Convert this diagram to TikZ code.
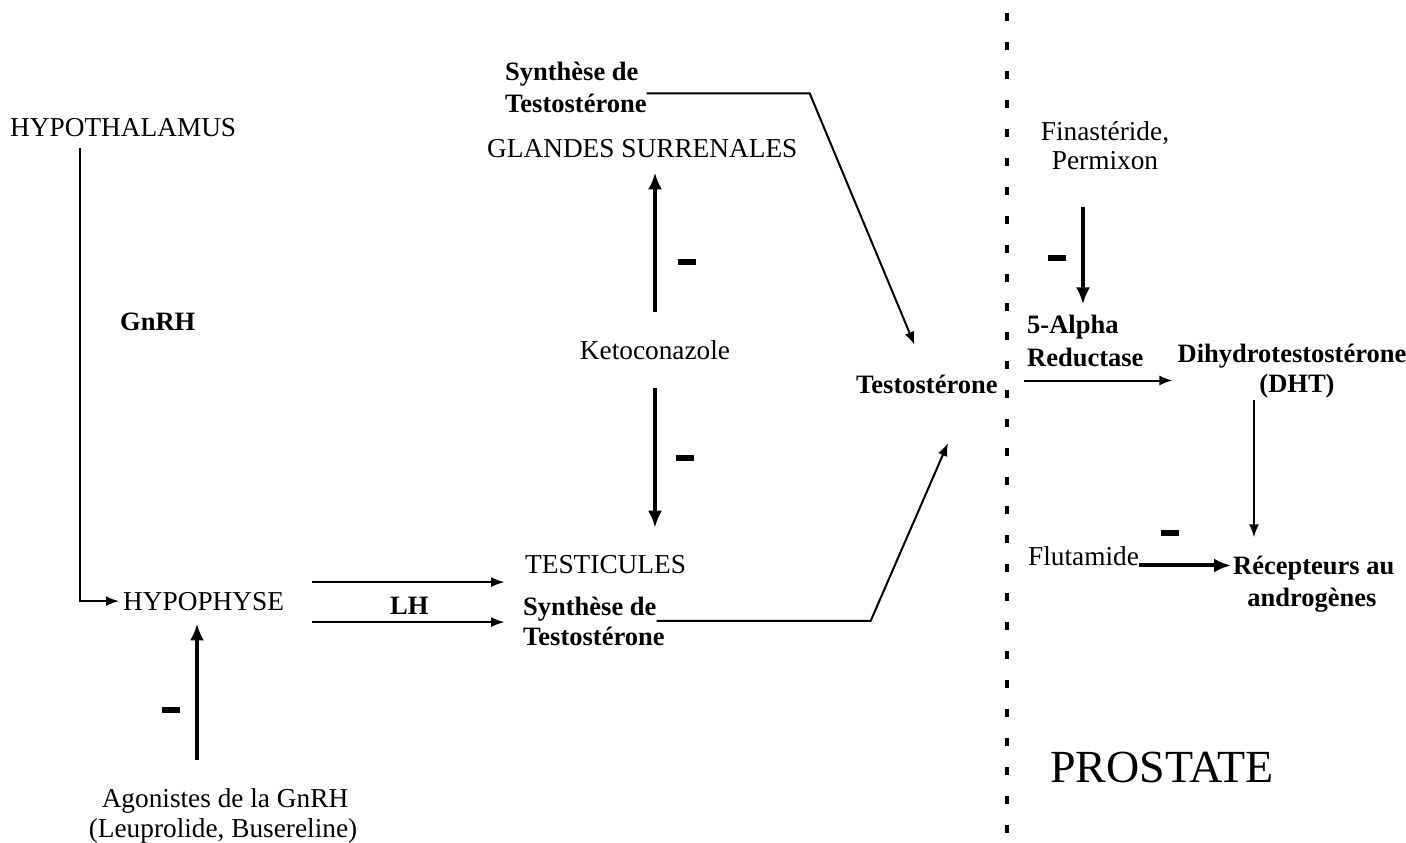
\documentclass[tikz,border=0pt]{standalone}
\usepackage{fontspec}
\setmainfont{Liberation Serif}
\usetikzlibrary{arrows.meta,calc}
\begin{document}
\begin{tikzpicture}[x=1pt,y=-1pt,
  reg/.style={font=\fontsize{27.3}{30}\selectfont, inner sep=0pt},
  bld/.style={font=\bfseries\fontsize{26.5}{30}\selectfont, inner sep=0pt},
  tarr/.style={line width=2pt, -{Latex[length=13pt,width=10pt]}},
  marr/.style={line width=2.4pt, -{Latex[length=14pt,width=10pt]}},
  karr/.style={line width=4pt, -{Latex[length=17pt,width=14pt]}},
  minus/.style={fill=black, minimum width=18pt, minimum height=6pt, inner sep=0pt},
  divider/.style={line width=4pt, dash pattern=on 8pt off 21pt}]
\useasboundingbox (0,0) rectangle (1406,843);

% nodes
\node[reg,anchor=base west] (hypoth) at (10,136) {HYPOTHALAMUS};
\node[bld,anchor=base west] (gnrh) at (120,330) {GnRH};
\node[reg,anchor=base west] (hypoph) at (123,610) {HYPOPHYSE};
\node[reg,anchor=base] (ag1) at (225,807) {Agonistes de la GnRH};
\node[reg,anchor=base] (ag2) at (223,837) {(Leuprolide, Busereline)};
\node[bld,anchor=base west] (lh) at (390,614) {LH};
\node[reg,anchor=base west] (testi) at (525,573) {TESTICULES};
\node[bld,anchor=base west] (synB1) at (523,615) {Synthèse de};
\node[bld,anchor=base west] (synB2) at (523,645) {Testostérone};
\node[reg,anchor=base] (keto) at (655,359) {Ketoconazole};
\node[reg,anchor=base west] (gland) at (487,157) {GLANDES SURRENALES};
\node[bld,anchor=base west] (synA1) at (505,81) {Synthèse de};
\node[bld,anchor=base west] (synA2) at (505,112) {Testostérone};
\node[bld,anchor=base west] (testo) at (856,393) {Testostérone};
\node[reg,anchor=base] (fin1) at (1105,140) {Finastéride,};
\node[reg,anchor=base] (fin2) at (1105,169) {Permixon};
\node[bld,anchor=base west] (al1) at (1027,333) {5-Alpha};
\node[bld,anchor=base west] (al2) at (1027,366) {Reductase};
\node[bld,anchor=base] (dht1) at (1292,362) {Dihydrotestostérone};
\node[bld,anchor=base] (dht2) at (1297,392) {(DHT)};
\node[reg,anchor=base west] (fluta) at (1028,565) {Flutamide};
\node[bld,anchor=base west] (rec1) at (1233,574) {Récepteurs au};
\node[bld,anchor=base] (rec2) at (1312,606) {androgènes};
\node[font=\fontsize{46}{50}\selectfont, inner sep=0pt, anchor=base west] (prost) at (1050,782) {PROSTATE};

% minus signs
\node[minus] (m1) at (171,710) {};
\node[minus] (m2) at (687,262) {};
\node[minus] (m3) at (685,458) {};
\node[minus] (m4) at (1057,258) {};
\node[minus] (m5) at (1170,533) {};

% divider
\coordinate (dvTop) at (1007,13);
\coordinate (dvBot) at (1007,843);
\draw[divider] (dvTop) -- (dvBot);

% connectors
\draw[tarr] ($(hypoth.south west)+(70,12)$) |- ($(hypoph.west)+(-4,0)$);
\coordinate (agS) at (197,760);
\draw[karr, shorten >=13pt] (agS) -- (agS |- hypoph.south);
\draw[marr] ($(hypoph.east)+(28,-19)$) -- ($(hypoph.east -| testi.west)+(-20,-19)$);
\draw[marr] ($(hypoph.east)+(28,21)$) -- ($(hypoph.east -| testi.west)+(-20,21)$);

\coordinate (tB) at (948,443);
\draw[tarr] (synB1.south east) -- ++(214,0) -- (tB);
\draw[tarr, shorten >=32pt] (synA2.north east) -- ++(163,0) -- (testo.north);

\draw[karr, shorten <=28pt, shorten >=15pt] (keto.north) -- (keto.north |- gland.south);
\draw[karr, shorten <=29pt, shorten >=27pt] (keto.south) -- (keto.south |- testi.north);

\coordinate (fS) at (1083,207);
\draw[karr, shorten >=10pt] (fS) -- (fS |- al1.north);
\draw[tarr] ($(al2.south west)+(-3,14)$) -- ($(al2.south west -| dht1.west)+(-5,14)$);
\coordinate (dS) at (1254,400);
\draw[tarr, shorten >=18pt] (dS) -- (dS |- rec1.north);
\draw[karr] (fluta.south east) -- ($(fluta.south east -| rec1.west)+(-2,0)$);
\end{tikzpicture}
\end{document}
